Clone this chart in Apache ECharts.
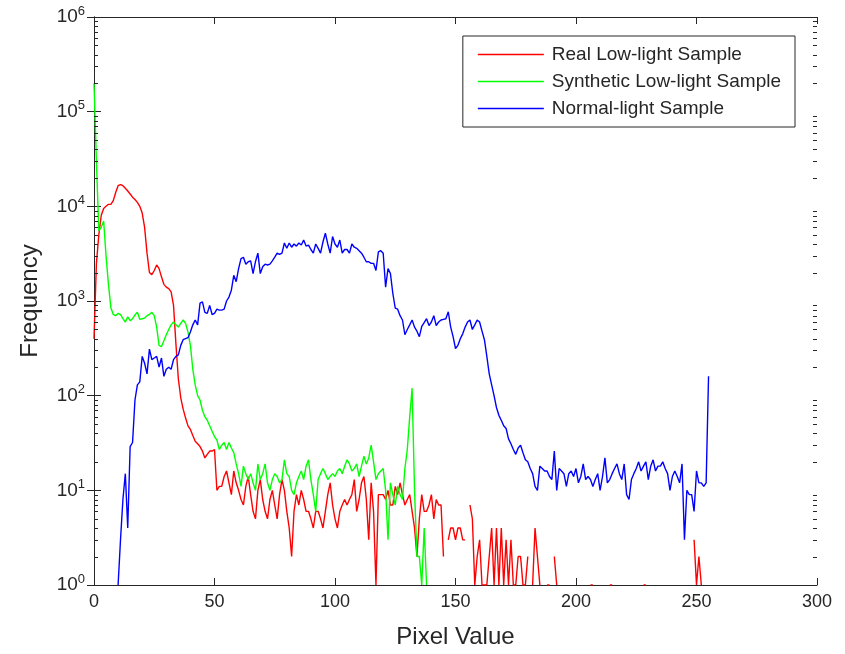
<!DOCTYPE html>
<html>
<head>
<meta charset="utf-8">
<script src="https://cdn.jsdelivr.net/npm/echarts@6/dist/echarts.min.js"></script>
<style>html,body{margin:0;padding:0;background:#fff}#c{width:845px;height:654px}</style>
</head>
<body>
<div id="c"></div>
<script>
// Pixel values 0..255
const pixelValues = Array.from({length: 256}, (_, i) => i);
const seriesNames = ['Real Low-light Sample', 'Synthetic Low-light Sample', 'Normal-light Sample'];
const xTicks = [0, 50, 100, 150, 200, 250, 300];
const yTickExponents = [0, 1, 2, 3, 4, 5, 6];
const minorMultipliers = [2, 3, 4, 5, 6, 7, 8, 9];
const N = null;

const realLow = [
400,2500,5000,8000,9500,10000,10500,10500,11500,14000,
16500,17000,16500,15500,14500,13500,12500,11800,11000,10000,
8500,6000,3200,2000,1900,2100,2400,2200,1800,1500,
1400,1350,1250,900,350,150,95,72,58,48,
44,38,33,31,29,26,22,24,26,26,
27,10,11,11,14,16,12,9,16,12,
10,8,7,11,14,9,6,5,10,13,
8,6,5,8,10,7,5,9,13,10,
6,4,2,6,9,7,10,8,6,6,
5,4,6,6,5,4,6,9,12,7,
5,4,6,7,8,7,8,9,13,6,
8,12,14,8,3,12,6,1,9,9,
9,8,10,7,7,11,9,12,9,7,
8,9,6,4,2,5,9,6,6,7,
9,5,8,7,7,2,N,3,4,4,
3,4,4,3,3,N,7,5,1,2,
3,1,1,1,2,4,1,4,1,4,
1,3,1,3,1,1,2,2,1,1,
2,N,1,4,2,1,N,N,1,1,
N,2,1,N,N,N,N,N,N,N,
N,N,N,N,N,N,1,1,N,N,
N,N,N,N,1,1,N,N,N,N,
N,N,N,N,N,N,N,N,1,1,
N,N,N,N,N,N,N,N,N,N,
N,N,N,N,N,N,N,N,N,3,
1,2,1,N,N,N
];

const syntheticLow = [
200000,30000,5500,6000,7000,3000,1500,850,720,700,
740,720,650,600,680,620,650,710,760,640,
650,660,700,720,760,700,530,340,330,380,
440,500,560,600,560,530,580,630,580,470,
340,190,130,100,90,70,60,55,48,42,
37,34,27,30,32,27,32,28,25,19,
15,11,18,15,13,15,12,10,19,13,
15,19,12,10,13,15,14,12,13,21,
15,14,10,9,12,14,16,13,18,21,
13,9,6,13,15,17,15,13,14,15,
14,16,17,15,18,21,19,16,17,19,
14,18,23,19,22,30,20,13,15,16,
17,10,3,12,9,7,11,9,8,17,
27,60,120,10,2,2,1,4,1,N,
N,N,N,N,N,N,N,N,N,N,
N,N,N,N,N,N,N,N,N,N,
N,N,N,N,N,N,N,N,N,N,
N,N,N,N,N,N,N,N,N,N,
N,N,N,N,N,N,N,N,N,N,
N,N,N,N,N,N,N,N,N,N,
N,N,N,N,N,N,N,N,N,N,
N,N,N,N,N,N,N,N,N,N,
N,N,N,N,N,N,N,N,N,N,
N,N,N,N,N,N,N,N,N,N,
N,N,N,N,N,N,N,N,N,N,
N,N,N,N,N,N
];

const normalLight = [
N,N,N,N,N,N,N,N,N,N,
1,3,8,15,4,29,32,90,130,140,
260,220,170,310,240,250,260,200,250,160,
190,200,190,240,260,270,340,390,400,410,
470,560,630,560,950,980,760,740,900,720,
740,820,800,800,820,1000,1100,1300,1870,1600,
2200,2800,2900,2450,2600,2650,1950,2600,3200,1950,
2300,2450,2400,2450,2650,2900,3200,3100,3200,4100,
3600,4100,3700,4000,3800,4100,3900,4400,3800,3900,
3500,3200,4000,3600,3200,4200,5200,4000,3200,4800,
4000,3700,4400,3200,3500,3500,3200,4000,3700,3600,
3400,3200,2900,2600,2600,2500,2500,2100,3300,3400,
3200,1400,2200,1950,1200,840,820,700,630,440,
500,560,630,530,480,420,540,590,650,550,
600,700,550,600,630,640,650,770,530,420,
315,340,400,450,530,600,630,500,560,630,
600,480,390,260,170,130,100,75,62,55,
48,45,35,31,27,24,28,30,25,21,
20,17,15,11,10,18,17,16,16,14,
13,26,10,17,16,15,11,15,16,14,
17,12,14,19,13,14,13,11,13,15,
10,14,22,12,13,15,17,19,15,13,
19,9,8,13,15,17,20,16,18,20,
13,18,21,16,18,18,20,17,15,10,
14,16,14,12,19,3,10,9,9,6,
16,12,12,11,12,160
];

const colors = ['#ff0000', '#00ff00', '#0000ff'];
const dataSets = [realLow, syntheticLow, normalLight];

// minor tick values of the log axis (2..9 times each decade)
const minorTickValues = [];
yTickExponents.slice(0, -1).forEach(e => minorMultipliers.forEach(m => minorTickValues.push(m * Math.pow(10, e))));

const chart = echarts.init(document.getElementById('c'), null, {renderer: 'canvas'});
const axisColor = '#262626';
const fontFam = '"Liberation Sans", Arial, Helvetica, sans-serif';

const supFmt = v => {
  const e = Math.round(Math.log10(v));
  return '{b|10}{s|' + e + '}';
};

const lineSeries = seriesNames.map((name, k) => ({
  name,
  type: 'line',
  xAxisIndex: 0,
  yAxisIndex: 0,
  data: pixelValues.map((x, i) => [x, dataSets[k][i]]),
  showSymbol: false,
  symbol: 'none',
  connectNulls: false,
  lineStyle: {color: colors[k], width: 1.4},
  itemStyle: {color: colors[k]},
  emphasis: {disabled: true}
}));

const minorTickSeries = {
  type: 'custom',
  silent: true,
  xAxisIndex: 0,
  yAxisIndex: 0,
  clip: false,
  z: 5,
  data: minorTickValues.map(v => [0, v]),
  renderItem: (params, api) => {
    const l = api.coord([xTicks[0], api.value(1)]);
    const r = api.coord([xTicks[xTicks.length - 1], api.value(1)]);
    const y = Math.round(l[1]) + 0.5;
    return {
      type: 'group',
      children: [
        {type: 'line', shape: {x1: l[0], y1: y, x2: l[0] + 4, y2: y}, style: {stroke: axisColor, lineWidth: 1}},
        {type: 'line', shape: {x1: r[0] - 4, y1: y, x2: r[0], y2: y}, style: {stroke: axisColor, lineWidth: 1}}
      ]
    };
  }
};

const option = {
  animation: false,
  backgroundColor: '#fff',
  grid: {left: 94, right: 28, top: 17, bottom: 69, containLabel: false},
  legend: {
    data: seriesNames,
    orient: 'vertical',
    right: 50,
    top: 36,
    icon: 'rect',
    itemWidth: 66,
    itemHeight: 1.5,
    itemGap: 8,
    padding: [9, 14, 9, 15],
    borderColor: axisColor,
    borderWidth: 1,
    backgroundColor: '#fff',
    textStyle: {fontFamily: fontFam, fontSize: 19, color: axisColor, lineHeight: 18, padding: [0, 0, 0, 3]}
  },
  xAxis: [{
    type: 'value', min: 0, max: 300, interval: 50,
    name: 'Pixel Value', nameLocation: 'middle', nameGap: 40,
    nameTextStyle: {fontFamily: fontFam, fontSize: 24, color: axisColor},
    axisLine: {show: true, lineStyle: {color: axisColor, width: 1}},
    axisTick: {show: true, inside: true, length: 7, lineStyle: {color: axisColor}},
    axisLabel: {fontFamily: fontFam, fontSize: 18, color: axisColor, margin: 8,
      formatter: v => xTicks.includes(v) ? String(v) : ''},
    splitLine: {show: false}
  }, {
    type: 'value', min: 0, max: 300, interval: 50, position: 'top',
    axisLine: {show: true, lineStyle: {color: axisColor, width: 1}},
    axisTick: {show: true, inside: true, length: 7, lineStyle: {color: axisColor}},
    axisLabel: {show: false}, splitLine: {show: false}
  }],
  yAxis: [{
    type: 'log', logBase: 10, min: 1, max: 1e6,
    name: 'Frequency', nameLocation: 'middle', nameGap: 52, nameRotate: 90,
    nameTextStyle: {fontFamily: fontFam, fontSize: 24, color: axisColor},
    axisLine: {show: true, lineStyle: {color: axisColor, width: 1}},
    axisTick: {show: true, inside: true, length: 7, lineStyle: {color: axisColor}},
    axisLabel: {fontFamily: fontFam, color: axisColor, margin: 9, formatter: supFmt,
      rich: {b: {fontSize: 19, fontFamily: fontFam, color: axisColor},
             s: {fontSize: 13, fontFamily: fontFam, color: axisColor, verticalAlign: 'top', padding: [0, 0, 12, 0]}}},
    splitLine: {show: false}
  }, {
    type: 'log', logBase: 10, min: 1, max: 1e6, position: 'right',
    axisLine: {show: true, lineStyle: {color: axisColor, width: 1}},
    axisTick: {show: true, inside: true, length: 7, lineStyle: {color: axisColor}},
    axisLabel: {show: false}, splitLine: {show: false}
  }],
  series: lineSeries.concat([minorTickSeries])
};
chart.setOption(option);
</script>
</body>
</html>
